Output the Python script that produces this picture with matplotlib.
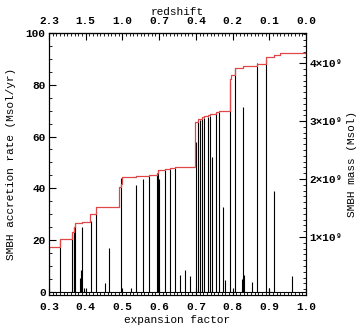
import matplotlib
matplotlib.use("Agg")
import matplotlib.pyplot as plt
import numpy as np
from matplotlib.ticker import MultipleLocator

plt.rcParams['font.family'] = ['Liberation Mono', 'DejaVu Serif']
plt.rcParams['font.weight'] = 'bold'

# accretion spikes: expansion factor, rate (Msol/yr)
spike_a = [0.300, 0.331, 0.364, 0.367, 0.369, 0.372, 0.384, 0.387, 0.391, 0.395,
           0.414, 0.427, 0.453, 0.464, 0.4975, 0.5226, 0.537, 0.557, 0.572, 0.593,
           0.598, 0.601, 0.615, 0.630, 0.643, 0.657, 0.670, 0.684, 0.700, 0.705,
           0.710, 0.716, 0.723, 0.734, 0.739, 0.745, 0.754, 0.764, 0.775, 0.779,
           0.794, 0.807, 0.825, 0.829, 0.832, 0.852, 0.867, 0.891, 0.899, 0.912,
           0.963]
spike_rate = [12.4, 20.0, 22.0, 23.5, 25.0, 26.0, 5.4, 8.5, 25.0, 1.5,
              27.5, 31.0, 3.5, 16.8, 44.0, 1.5, 41.3, 43.6, 44.9, 45.3,
              47.0, 43.5, 47.3, 47.8, 48.0, 6.5, 8.5, 6.0, 58.0, 66.0,
              66.3, 66.8, 67.2, 67.6, 68.0, 52.2, 69.0, 69.6, 32.7, 4.6,
              81.0, 86.5, 5.0, 71.6, 6.5, 4.0, 88.3, 89.5, 1.5, 38.9,
              6.3]

# cumulative SMBH mass (units of 1e9 Msol)
mass_a = [0.300, 0.331, 0.364, 0.367, 0.371, 0.390, 0.413, 0.427, 0.492, 0.496,
          0.500, 0.537, 0.557, 0.572, 0.593, 0.598, 0.615, 0.630, 0.643, 0.699,
          0.705, 0.710, 0.716, 0.723, 0.734, 0.739, 0.754, 0.764, 0.794, 0.797,
          0.807, 0.829, 0.867, 0.891, 0.912, 0.930, 1.000]
mass_val = [0.822, 0.97, 1.09, 1.17, 1.24, 1.26, 1.40, 1.51, 1.86, 1.92,
            2.04, 2.05, 2.06, 2.07, 2.10, 2.15, 2.17, 2.19, 2.20, 2.99,
            3.03, 3.04, 3.07, 3.09, 3.11, 3.13, 3.16, 3.18, 3.72, 3.80,
            3.91, 3.95, 3.99, 4.10, 4.14, 4.17, 4.19]

x_ticks = [0.3, 0.4, 0.5, 0.6, 0.7, 0.8, 0.9, 1.0]
z_labels = ['2.3', '1.5', '1.0', '0.7', '0.4', '0.2', '0.1', '0.0']
mass_ticks = [1, 2, 3, 4]
mass_labels = ['1×10⁹', '2×10⁹', '3×10⁹', '4×10⁹']

fig = plt.figure(figsize=(3.61, 3.30), dpi=100)
ax = fig.add_axes([0.1357, 0.1061, 0.7119, 0.7939])
ax.vlines(spike_a, 0, spike_rate, color='k', lw=0.8)
ax.axhline(0, color='k', lw=0.8)
ax.set_xlim(0.3, 1.0)
ax.set_ylim(-1.2, 100)
ax.set_xticks(x_ticks)
ax.set_xticklabels([f'{t:.1f}' for t in x_ticks])
ax.xaxis.set_minor_locator(MultipleLocator(0.01))
ax.yaxis.set_major_locator(MultipleLocator(20))
ax.yaxis.set_minor_locator(MultipleLocator(5))
fs = 8.0
ax.tick_params(axis='both', which='major', direction='in', length=5, width=0.8, labelsize=fs)
ax.tick_params(axis='both', which='minor', direction='in', length=2.5, width=0.6)
ax.tick_params(axis='x', which='major', pad=5)
ax.tick_params(axis='y', which='major', pad=2.5)
ax.tick_params(axis='x', which='both', top=False)
ax.tick_params(axis='y', which='both', right=False)
ax.set_xlabel('expansion factor', fontsize=fs, labelpad=2)
ax.set_ylabel('SMBH accretion rate (Msol/yr)', fontsize=fs, labelpad=7)

ax2 = ax.twinx()
ax2.plot(mass_a, mass_val, drawstyle='steps-post', color='#e04848', lw=0.9)
ax2.set_ylim(0, 4.52)
ax2.set_yticks(mass_ticks)
ax2.set_yticklabels(mass_labels)
ax2.yaxis.set_minor_locator(MultipleLocator(0.1))
ax2.tick_params(axis='y', which='major', direction='in', length=5, width=0.8, labelsize=fs, pad=2.5)
ax2.tick_params(axis='y', which='minor', direction='in', length=2.5, width=0.6)
ax2.set_ylabel('SMBH mass (Msol)', fontsize=fs, labelpad=3)

top = ax.secondary_xaxis('top')
top.set_xticks(x_ticks)
top.set_xticklabels(z_labels)
top.xaxis.set_minor_locator(MultipleLocator(0.01))
top.tick_params(axis='x', which='major', direction='in', length=5, width=0.8, labelsize=fs, pad=5)
top.tick_params(axis='x', which='minor', direction='in', length=2.5, width=0.6)
top.set_xlabel('redshift', fontsize=fs, labelpad=1)

for a in (ax, ax2):
    for s in a.spines.values():
        s.set_linewidth(0.8)

fig.savefig('out.png', dpi=100)
